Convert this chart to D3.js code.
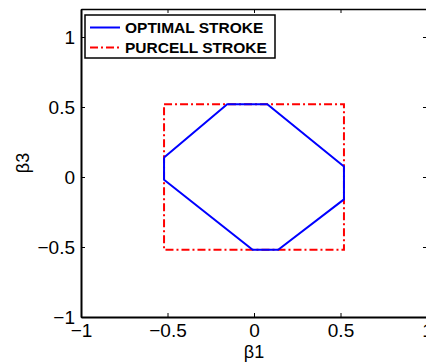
<!DOCTYPE html>
<html><head><meta charset="utf-8">
<script src="https://cdn.jsdelivr.net/npm/d3@7"></script>
<style>body{margin:0;background:#fff}svg{display:block}text{font-family:"Liberation Sans",Arial,sans-serif}</style>
</head><body>
<script>
const xTicks = [-1, -0.5, 0, 0.5, 1];
const yTicks = [-1, -0.5, 0, 0.5, 1];
const tickLabels = ["\u22121", "\u22120.5", "0", "0.5", "1"];
const optimalB1 = [-0.52, -0.155, 0.077, 0.52, 0.52, 0.14, -0.008, -0.52, -0.52];
const optimalB3 = [0.14, 0.52, 0.52, 0.075, -0.16, -0.52, -0.52, -0.02, 0.14];
const purcellB1 = [-0.52, 0.52, 0.52, -0.52, -0.52];
const purcellB3 = [0.52, 0.52, -0.52, -0.52, 0.52];
const seriesNames = ["OPTIMAL STROKE", "PURCELL STROKE"];

const W = 426, H = 363;
const L = 81, R = 427, T = 9, B = 317;
const x = d3.scaleLinear().domain([-1, 1]).range([L, R]);
const y = d3.scaleLinear().domain([-1, 1.2]).range([B, T]);

const svg = d3.select("body").append("svg").attr("width", W).attr("height", H);

const line = d3.line().x(d => x(d[0])).y(d => y(d[1]));
const purcell = purcellB1.map((v, i) => [v, purcellB3[i]]);
const optimal = optimalB1.map((v, i) => [v, optimalB3[i]]);

svg.append("path").attr("d", line(purcell)).attr("fill", "none")
  .attr("stroke", "#ff0000").attr("stroke-width", 2).attr("stroke-dasharray", "8,3,2,3");
svg.append("path").attr("d", line(optimal)).attr("fill", "none")
  .attr("stroke", "#0000ff").attr("stroke-width", 2).attr("stroke-linejoin", "round");

// axes
const fmt = v => tickLabels[xTicks.indexOf(v)];
const gx = svg.append("g").attr("transform", `translate(0,${B})`)
  .call(d3.axisBottom(x).tickValues(xTicks).tickSizeInner(-4).tickSizeOuter(0).tickPadding(7).tickFormat(fmt));
const gy = svg.append("g").attr("transform", `translate(${L},0)`)
  .call(d3.axisLeft(y).tickValues(yTicks).tickSizeInner(-4).tickSizeOuter(0).tickPadding(6).tickFormat(v => tickLabels[yTicks.indexOf(v)]));
const gt = svg.append("g").attr("transform", `translate(0,${T})`)
  .call(d3.axisTop(x).tickValues(xTicks).tickSizeInner(-4).tickSizeOuter(0).tickFormat(""));
const gr = svg.append("g").attr("transform", `translate(${R},0)`)
  .call(d3.axisRight(y).tickValues(yTicks).tickSizeInner(-4).tickSizeOuter(0).tickFormat(""));
[gx, gy].forEach(g => g.selectAll("text").attr("font-size", 19).attr("fill", "#000")
  .attr("font-family", '"Liberation Sans",Arial,sans-serif'));
[gx, gy, gt, gr].forEach(g => { g.selectAll(".tick line").attr("stroke", "#000").attr("stroke-width", 1); });
gx.select(".domain").attr("stroke-width", 2);
gy.select(".domain").attr("stroke-width", 2);
gt.select(".domain").attr("stroke-width", 1.5);
gr.select(".domain").attr("stroke-width", 1.5);

// labels
svg.append("text").attr("x", x(0)).attr("y", 358).attr("text-anchor", "middle")
  .attr("font-size", 18).text("\u03b21");
svg.append("text").attr("transform", `translate(29,${y(0.1)}) rotate(-90)`).attr("text-anchor", "middle")
  .attr("font-size", 18).text("\u03b23");

// legend
const lg = svg.append("g");
lg.append("rect").attr("x", 85).attr("y", 15).attr("width", 190).attr("height", 43)
  .attr("fill", "#fff").attr("stroke", "#000").attr("stroke-width", 1.5);
const styles = [{c: "#0000ff", d: null}, {c: "#ff0000", d: "8,3,2,3"}];
seriesNames.forEach((n, i) => {
  const cy = 27.5 + i * 20;
  lg.append("line").attr("x1", 90).attr("x2", 120).attr("y1", cy).attr("y2", cy)
    .attr("stroke", styles[i].c).attr("stroke-width", 2).attr("stroke-dasharray", styles[i].d);
  lg.append("text").attr("x", 125).attr("y", cy + 5.5).attr("font-size", 15.5)
    .attr("font-weight", "bold").text(n);
});
</script>
</body></html>
